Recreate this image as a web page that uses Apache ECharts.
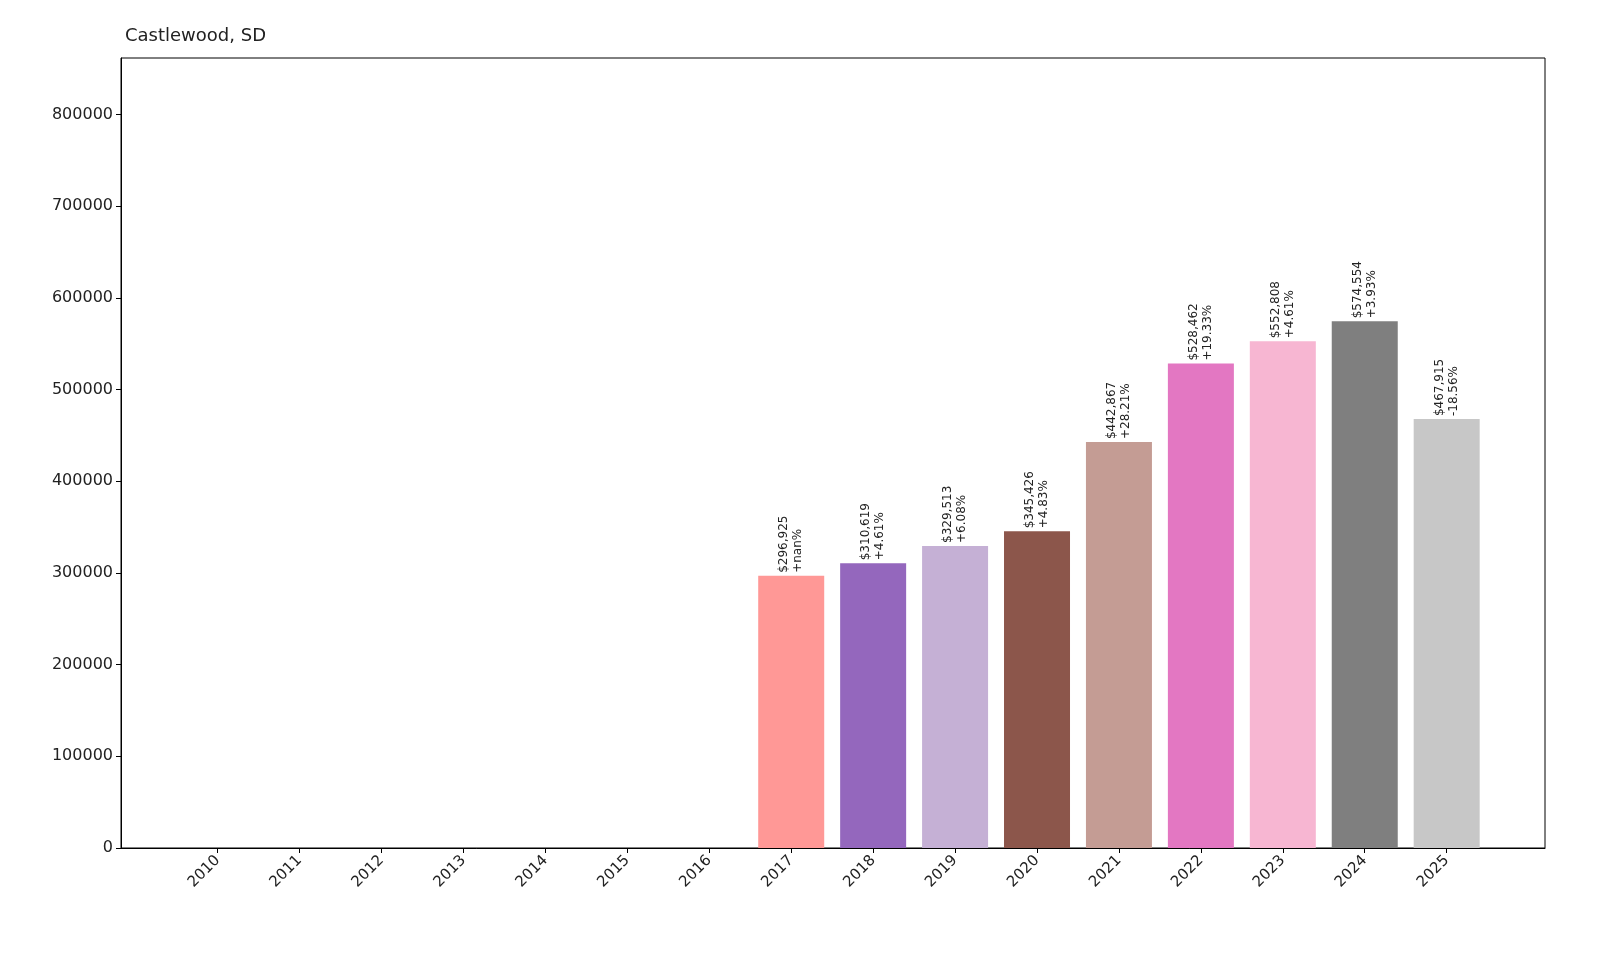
<!DOCTYPE html>
<html>
<head>
<meta charset="utf-8">
<script src="https://cdn.jsdelivr.net/npm/echarts@6/dist/echarts.min.js"></script>
<style>html,body{margin:0;background:#fff;overflow:hidden}</style>
</head>
<body>
<div id="chart" style="width:1600px;height:960px;"></div>
<script>
var years = ['2010','2011','2012','2013','2014','2015','2016','2017','2018','2019','2020','2021','2022','2023','2024','2025'];
var values = [null,null,null,null,null,null,null,296925,310619,329513,345426,442867,528462,552808,574554,467915];
var changes = ['','','','','','','','+nan%','+4.61%','+6.08%','+4.83%','+28.21%','+19.33%','+4.61%','+3.93%','-18.56%'];
var colors = ['#1f77b4','#aec7e8','#ff7f0e','#ffbb78','#2ca02c','#98df8a','#d62728','#ff9896','#9467bd','#c5b0d5','#8c564b','#c49c94','#e377c2','#f7b6d2','#7f7f7f','#c7c7c7'];
var yTicks = [0,100000,200000,300000,400000,500000,600000,700000,800000];

var seriesData = [];
for (var i = 0; i < years.length; i++) {
	if (values[i] === null) continue;
	seriesData.push({ value: [i, values[i]], itemStyle: { color: colors[i] } });
}

var chart = echarts.init(document.getElementById('chart'));
var option = {
	animation: false,
	title: {
		text: 'Castlewood, SD',
		left: 120, top: 22,
		textStyle: { fontFamily: 'DejaVu Sans', fontSize: 18, fontWeight: 'normal', color: '#222' }
	},
	grid: { left: 121, right: 55, top: 58, bottom: 112, show: true, borderColor: '#000', borderWidth: 1 },
	xAxis: {
		type: 'value', min: -1.18, max: 16.2,
		splitLine: { show: false },
		axisLine: { show: true, onZero: false, lineStyle: { color: '#000' } },
		axisTick: { show: true, customValues: years.map(function (y, i) { return i; }), length: 5, lineStyle: { color: '#000' } },
		axisLabel: {
			customValues: years.map(function (y, i) { return i; }),
			formatter: function (v) { return years[Math.round(v)] || ''; },
			rotate: 45, fontFamily: 'DejaVu Sans', fontSize: 15, color: '#222', margin: 10
		}
	},
	yAxis: {
		type: 'value', min: 0, max: 861831,
		splitLine: { show: false },
		axisLine: { show: true, onZero: false, lineStyle: { color: '#000' } },
		axisTick: { show: true, customValues: yTicks, length: 5, lineStyle: { color: '#000' } },
		axisLabel: { customValues: yTicks, formatter: function (v) { return String(v); }, fontFamily: 'DejaVu Sans', fontSize: 16, color: '#222' }
	},
	series: [{
		type: 'bar',
		barWidth: 66,
		data: seriesData,
		label: {
			show: true, position: 'top', rotate: 90, distance: 3,
			align: 'left', verticalAlign: 'middle',
			fontFamily: 'DejaVu Sans', fontSize: 12, color: '#222', lineHeight: 14,
			formatter: function (p) {
				var i = p.value[0];
				return '$' + values[i].toLocaleString('en-US') + '\n' + changes[i];
			}
		}
	}]
};
chart.setOption(option);
</script>
</body>
</html>
